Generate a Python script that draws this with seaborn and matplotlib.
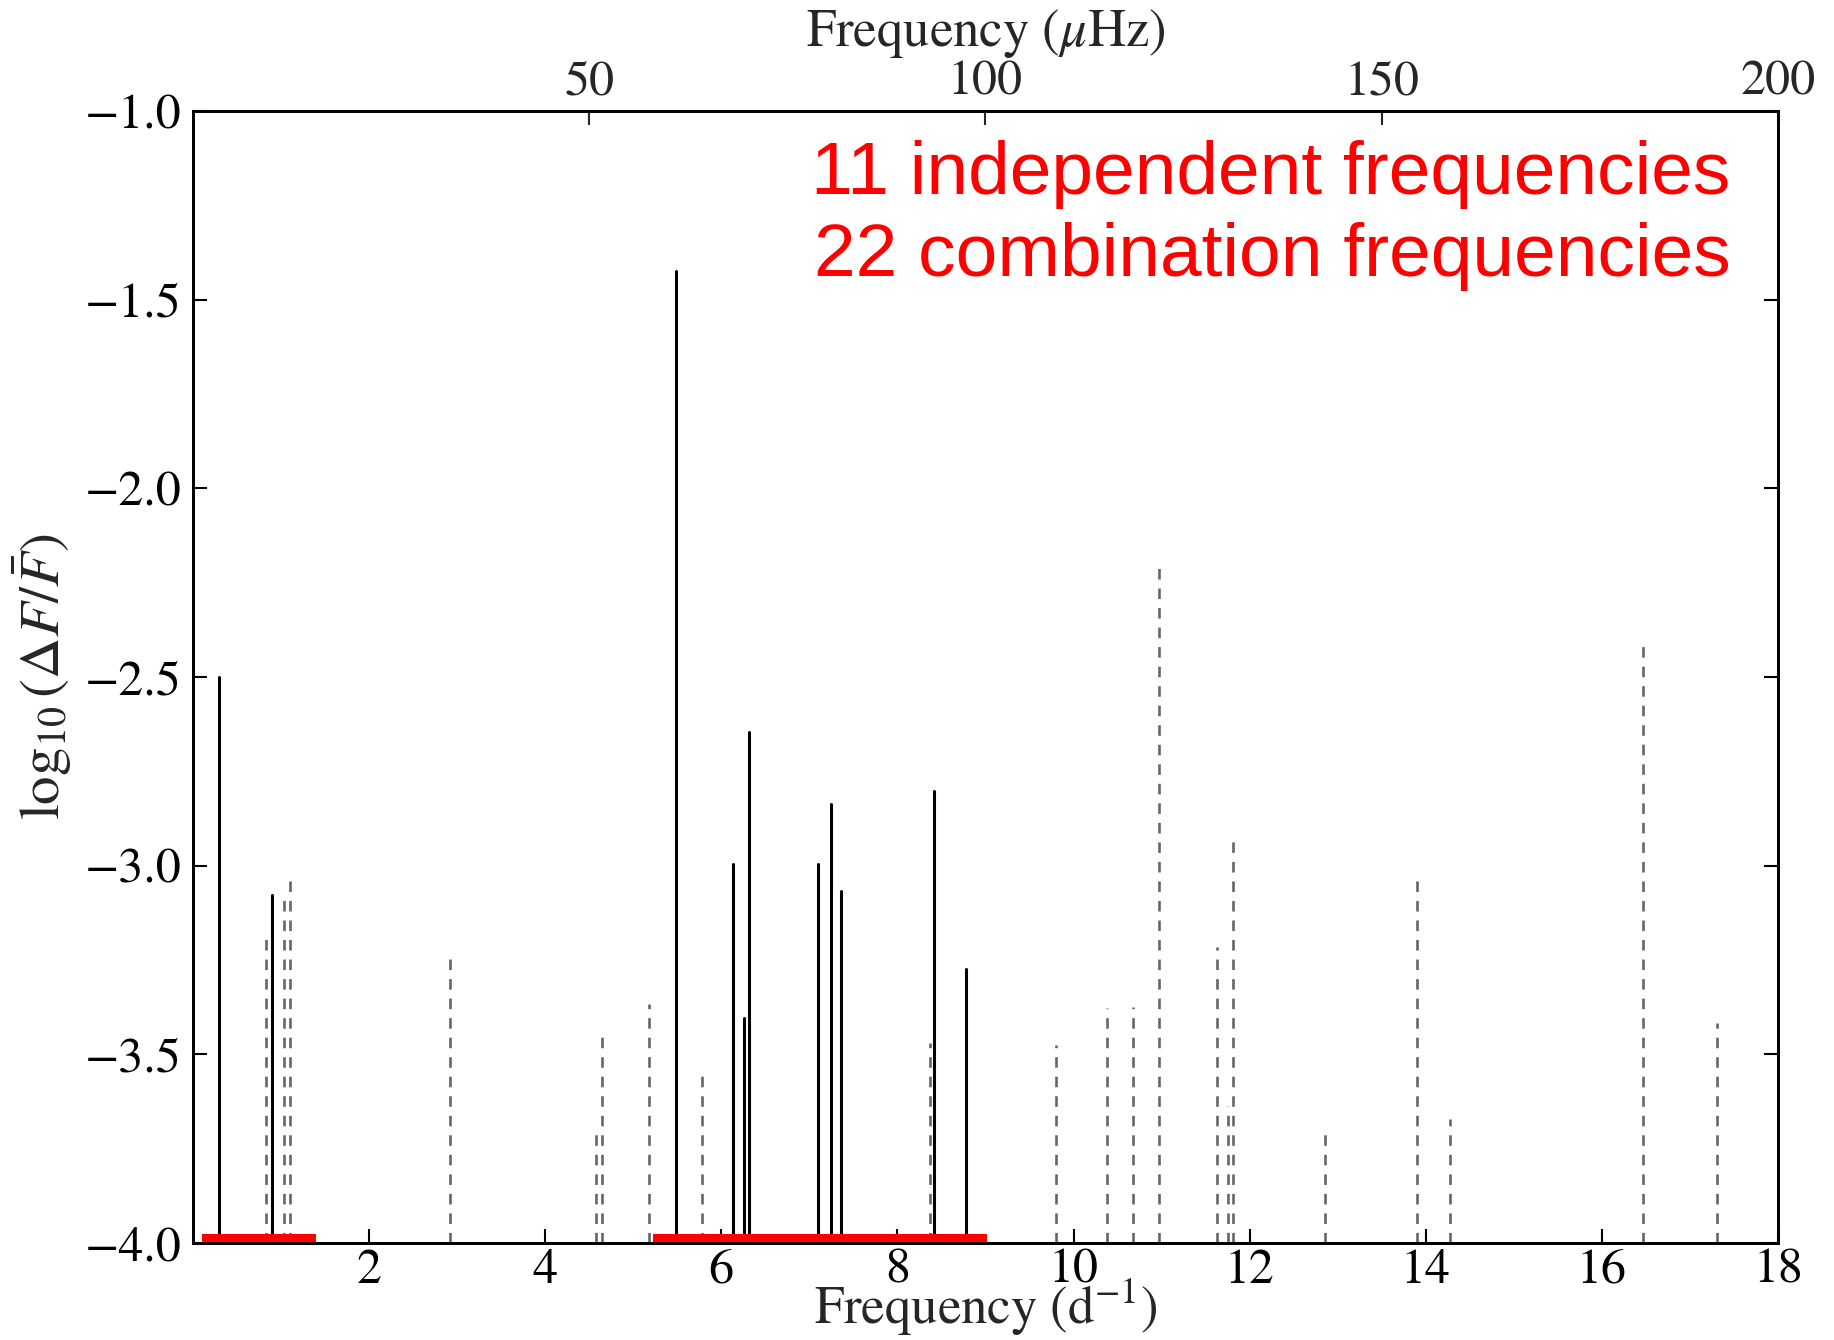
import numpy as np
import pandas as pd
import matplotlib
matplotlib.use("Agg")
import matplotlib.pyplot as plt
import seaborn as sns

# Independent frequencies (d^-1) and log10 amplitudes
indep_freq = [0.295, 0.893, 5.485, 6.136, 6.26, 6.32, 7.10, 7.25, 7.355, 8.41, 8.775]
indep_amp = [-2.50, -3.077, -1.425, -2.995, -3.405, -2.647, -2.995, -2.837, -3.066, -2.802, -3.275]

# Combination frequencies
comb_freq = [0.829, 1.037, 1.102, 2.919, 4.577, 4.641, 5.182, 5.784, 8.37, 9.801,
             10.38, 10.68, 10.975, 11.633, 11.758, 11.815, 12.85, 13.905, 14.27,
             16.47, 17.31]
comb_amp = [-3.18, -3.07, -3.03, -3.236, -3.689, -3.441, -3.366, -3.54, -3.47, -3.476,
            -3.377, -3.375, -2.202, -3.215, -3.636, -2.931, -3.692, -3.033, -3.672,
            -2.405, -3.416]

# Frequency ranges highlighted in red
range_start = [0.10, 5.22]
range_end = [1.40, 9.02]

xticks_bottom = [2, 4, 6, 8, 10, 12, 14, 16, 18]
xticks_top = [50, 100, 150, 200]
yticks = [-4.0, -3.5, -3.0, -2.5, -2.0, -1.5, -1.0]

BASE = -4.0


def segments(freqs, amps):
    rows = []
    for i, (f, a) in enumerate(zip(freqs, amps)):
        rows.append({"id": i, "freq": f, "amp": BASE})
        rows.append({"id": i, "freq": f, "amp": a})
    return pd.DataFrame(rows)


df_ind = segments(indep_freq, indep_amp)
df_comb = segments(comb_freq, comb_amp)

sns.set_theme(style="ticks")
plt.rcParams["font.family"] = ["STIXGeneral", "DejaVu Serif"]
plt.rcParams["mathtext.fontset"] = "stix"
plt.rcParams["axes.unicode_minus"] = True

fig = plt.figure(figsize=(18.34, 13.4), dpi=100)
ax = fig.add_axes([0.1052, 0.0724, 0.8643, 0.8448])

sns.lineplot(data=df_comb, x="freq", y="amp", units="id", estimator=None,
             sort=False, color="#666666", linewidth=1.9,
             linestyle=(0, (4, 3.4)), ax=ax, legend=False)
sns.lineplot(data=df_ind, x="freq", y="amp", units="id", estimator=None,
             sort=False, color="black", linewidth=2.2, ax=ax, legend=False)

ax.hlines([BASE] * len(range_start), range_start, range_end, colors="#ff0000",
          linewidth=13, zorder=5)

ax.set_xlim(0, 18)
ax.set_ylim(-4.0, -1.0)
ax.set_xticks(xticks_bottom)
ax.set_yticks(yticks)
ax.set_yticklabels(["\u2212%.1f" % abs(v) for v in yticks])
ax.tick_params(axis="both", direction="in", length=10, width=1.5,
               labelsize=36, colors="black")
ax.tick_params(axis="x", pad=4)
ax.tick_params(axis="y", right=True, pad=8)
ax.set_xlabel("Frequency (d$^{-1}$)", fontsize=38, labelpad=-12)
ax.set_ylabel(r"$\log_{10}(\Delta F/\bar{F})$", fontsize=41, labelpad=8)
for s in ax.spines.values():
    s.set_linewidth(2.0)
    s.set_color("black")

ax2 = ax.twiny()
ax2.set_xlim(0, 200)
ax2.set_xticks(xticks_top)
ax2.tick_params(axis="x", direction="in", length=10, width=1.5,
                labelsize=36, pad=4)
ax2.set_xlabel(r"Frequency ($\mu$Hz)", fontsize=38, labelpad=10)
for s in ax2.spines.values():
    s.set_linewidth(2.0)
    s.set_color("black")

ax.text(0.970, 0.944, "11 independent frequencies", transform=ax.transAxes,
        ha="right", va="center", color="#ff0000", fontsize=54,
        family=["Liberation Sans", "DejaVu Sans"])
ax.text(0.970, 0.871, "22 combination frequencies", transform=ax.transAxes,
        ha="right", va="center", color="#ff0000", fontsize=54,
        family=["Liberation Sans", "DejaVu Sans"])

fig.savefig("out.png", dpi=100)
